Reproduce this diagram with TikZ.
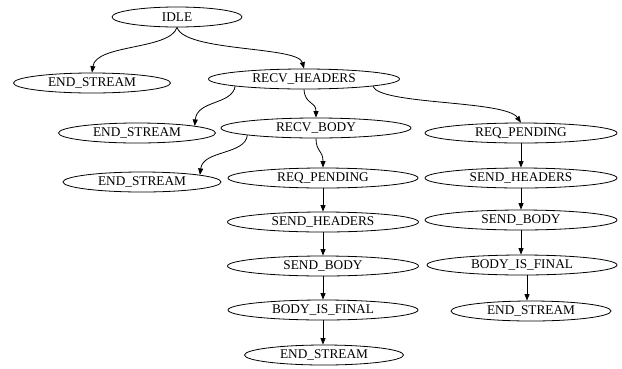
\documentclass[tikz,border=0pt]{standalone}
\usepackage{fontspec}
\setmainfont{Liberation Serif}
\usetikzlibrary{shapes.geometric,arrows.meta,calc}
\begin{document}
\begin{tikzpicture}[x=1bp,y=-1bp,
  st/.style={ellipse,draw,line width=0.8bp,inner sep=0pt,minimum height=20bp,
    font=\fontsize{13.3bp}{15bp}\selectfont},
  arr/.style={line width=0.8bp,-{Triangle[length=6.5bp,width=5bp]}}]
\useasboundingbox (0,0) rectangle (622,368);
\node[st,minimum width=130bp] (idle) at (177,17) {IDLE};
\node[st,minimum width=157bp] (es1) at (92,83) {END\_STREAM};
\node[st,minimum width=191bp] (rh) at (304,79) {RECV\_HEADERS};
\node[st,minimum width=157bp] (es2) at (137,133) {END\_STREAM};
\node[st,minimum width=190bp] (rb) at (316,128) {RECV\_BODY};
\node[st,minimum width=192bp] (rpR) at (521,133) {REQ\_PENDING};
\node[st,minimum width=158bp] (es3) at (142,182) {END\_STREAM};
\node[st,minimum width=190bp] (rpL) at (323,178) {REQ\_PENDING};
\node[st,minimum width=192bp] (shR) at (521,178) {SEND\_HEADERS};
\node[st,minimum width=191bp] (shL) at (323,222) {SEND\_HEADERS};
\node[st,minimum width=192bp] (sbR) at (521,220) {SEND\_BODY};
\node[st,minimum width=191bp] (sbL) at (323,266) {SEND\_BODY};
\node[st,minimum width=190bp] (bfR) at (522,265) {BODY\_IS\_FINAL};
\node[st,minimum width=190bp] (bfL) at (323,310) {BODY\_IS\_FINAL};
\node[st,minimum width=160bp] (esR) at (531,311) {END\_STREAM};
\node[st,minimum width=159bp] (esB) at (324,355) {END\_STREAM};
% curved edges
\draw[arr] (idle.south) .. controls (170,50) and (96,44) .. (es1.north);
\draw[arr] (idle.south) .. controls (185,52) and (298,46) .. (rh.north);
\draw[arr] (rh.186.1) .. controls (232,105) and (197,100) .. (es2.7.1);
\draw[arr] (rh.south) .. controls (305,105) and (316,101) .. (rb.north);
\draw[arr] (rh.354.1) .. controls (380,105) and (505,100) .. (rpR.north);
\draw[arr] (rb.186.2) .. controls (245,155) and (203,150) .. (es3.7.1);
\draw[arr] (rb.south) .. controls (316,152) and (323,150) .. (rpL.north);
% straight edges
\draw[arr] (rpR.south) -- (shR.north);
\draw[arr] (shR.south) -- (sbR.north);
\draw[arr] (sbR.south) -- ($(bfR.north)+(-1,0)$);
\draw[arr] ($(bfR.south)+(5,0)$) -- ($(esR.north)+(-4,0)$);
\draw[arr] (rpL.south) -- (shL.north);
\draw[arr] (shL.south) -- (sbL.north);
\draw[arr] (sbL.south) -- (bfL.north);
\draw[arr] (bfL.south) -- ($(esB.north)+(-1,0)$);
\end{tikzpicture}
\end{document}
